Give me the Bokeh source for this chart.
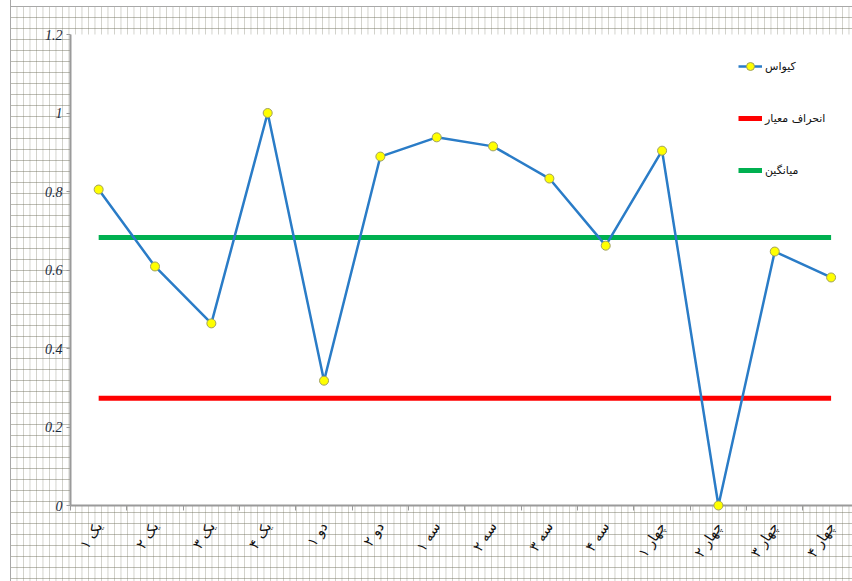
import numpy as np
from bokeh.plotting import figure
from bokeh.models import Range1d, FixedTicker, NumeralTickFormatter, Legend, LegendItem
from bokeh.embed import file_html
from bokeh.resources import INLINE

# ---- data ----
categories = ["یک ۱", "یک ۲", "یک ۳", "یک ۴", "دو ۱", "دو ۲", "سه ۱",
              "سه ۲", "سه ۳", "سه ۴", "چهار ۱", "چهار ۲", "چهار ۳", "چهار ۴"]
values = [0.805, 0.609, 0.464, 1.0, 0.318, 0.889, 0.938,
          0.915, 0.833, 0.662, 0.904, 0.0, 0.647, 0.581]
mean_value = 0.683
std_value = 0.273
series_name = "کیواس"
std_name = "انحراف معیار"
mean_name = "میانگین"
y_ticks = [0, 0.2, 0.4, 0.6, 0.8, 1.0, 1.2]

n = len(categories)
xc = [i + 0.5 for i in range(n)]
bounds = list(range(n + 1))

pattern = ("linear-gradient(to right, white 0px, white 10px, #a8a8a8 10px, #a8a8a8 11px, transparent 11px), "
           "linear-gradient(to bottom, white 0px, white 6px, #a8a8a8 6px, #a8a8a8 7px, transparent 7px), "
           "linear-gradient(to right, rgba(110,110,90,0.32) 0px, rgba(110,110,90,0.32) 1px, transparent 1px), "
           "linear-gradient(to bottom, rgba(110,110,90,0.45) 0px, rgba(110,110,90,0.45) 1px, transparent 1px)")

p = figure(width=852, height=581, output_backend="svg", toolbar_location=None,
           x_range=Range1d(0, 13.88), y_range=Range1d(0, 1.2),
           min_border_left=70, min_border_top=34, min_border_right=0, min_border_bottom=76,
           border_fill_color=None, background_fill_color="white", outline_line_color=None,
           styles={"background-color": "white",
                   "background-image": pattern,
                   "background-size": "100% 100%, 100% 100%, 6.5px 100%, 100% 11px",
                   "background-repeat": "no-repeat, no-repeat, repeat, repeat",
                   "background-position": "0px 0px, 0px 0px, 10px 0px, 0px 6px"})
p.xgrid.visible = False
p.ygrid.visible = False

# x axis
xa = p.xaxis[0]
xa.ticker = FixedTicker(ticks=xc, minor_ticks=bounds)
xa.major_label_overrides = {xc[i]: categories[i] for i in range(n)}
xa.major_tick_line_color = None
xa.major_tick_out = 0
xa.minor_tick_in = 0
xa.minor_tick_out = 5
xa.minor_tick_line_color = "#9a9a9a"
xa.axis_line_color = "#9a9a9a"
xa.axis_line_width = 2
xa.major_label_orientation = 1.0
xa.major_label_standoff = 13
xa.major_label_text_font = "DejaVu Sans"
xa.major_label_text_font_size = "14px"
xa.major_label_text_color = "#111111"

# y axis
ya = p.yaxis[0]
ya.ticker = FixedTicker(ticks=y_ticks)
ya.formatter = NumeralTickFormatter(format="0.[0]")
ya.minor_tick_line_color = None
ya.major_tick_in = 0
ya.major_tick_out = 4
ya.major_tick_line_color = "#9a9a9a"
ya.axis_line_color = "#9a9a9a"
ya.axis_line_width = 2
ya.major_label_standoff = 4
ya.major_label_text_font = "Liberation Serif"
ya.major_label_text_font_style = "italic"
ya.major_label_text_font_size = "14px"
ya.major_label_text_color = "#1a2a3a"

# horizontal reference lines
r_std = p.line([xc[0], xc[-1]], [std_value, std_value], line_color="#ff0000", line_width=5)
r_mean = p.line([xc[0], xc[-1]], [mean_value, mean_value], line_color="#00b050", line_width=5)

# series
r_line = p.line(xc, values, line_color="#2a7cc7", line_width=2.5)
r_pts = p.scatter(xc, values, size=9, marker="circle", fill_color="#ffff00",
                  line_color="#a0a060", line_width=1, level="overlay")

legend = Legend(items=[LegendItem(label=series_name, renderers=[r_line, r_pts]),
                       LegendItem(label=std_name, renderers=[r_std]),
                       LegendItem(label=mean_name, renderers=[r_mean])],
                location=(668, 325), orientation="vertical",
                border_line_color=None, background_fill_color=None,
                padding=0, margin=0, spacing=32, glyph_width=24, glyph_height=20,
                label_height=20, label_standoff=3,
                label_text_font="DejaVu Sans", label_text_font_size="11px",
                label_text_color="#111111")
p.add_layout(legend, "center")

open("out.html", "w").write(file_html(p, INLINE))
